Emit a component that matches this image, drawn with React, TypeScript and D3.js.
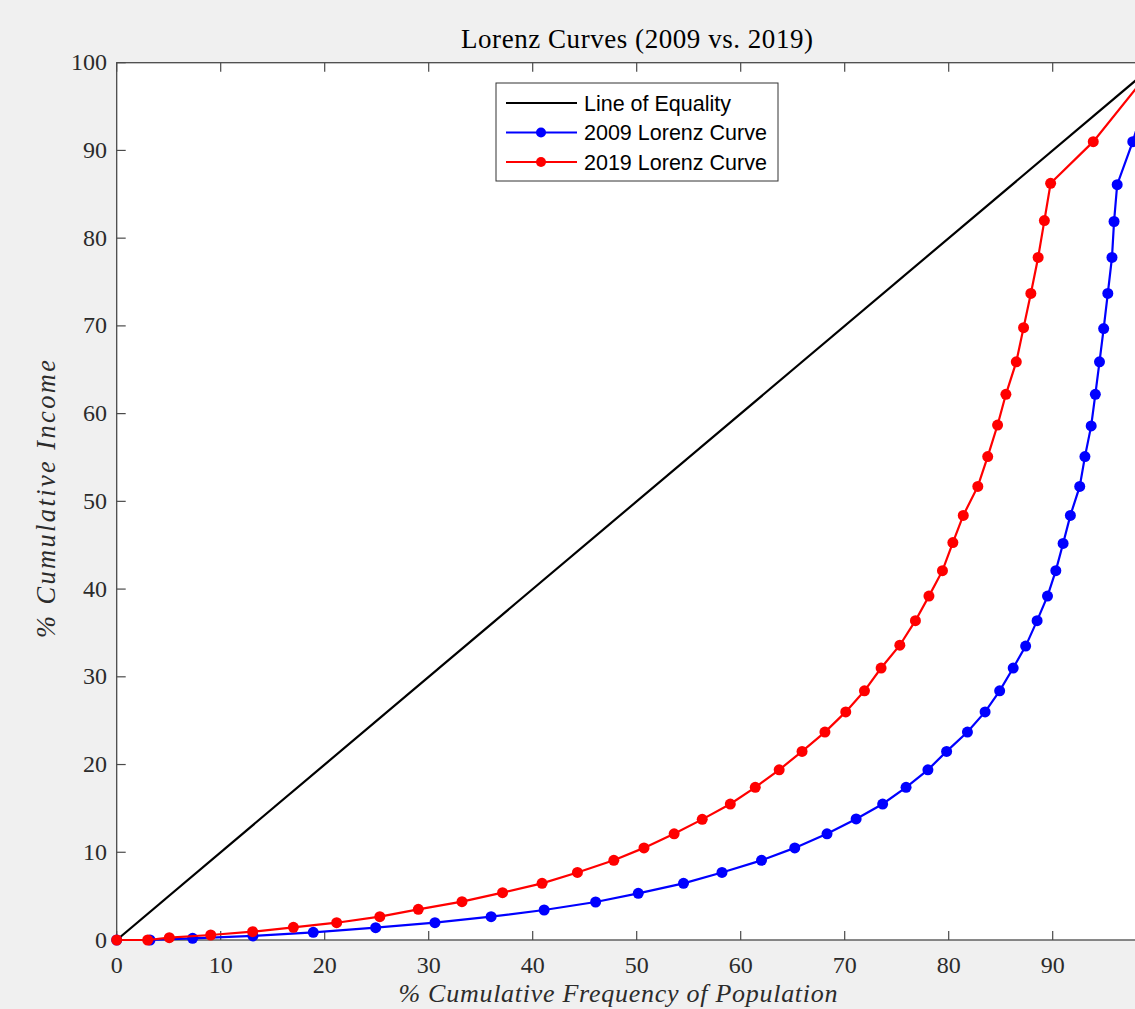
import React from "react";
import * as d3 from "d3";

// Cumulative % of population (x) and cumulative % of income (y)
const pop2009 = [0, 3.2, 7.3, 13.1, 18.9, 24.9, 30.6, 36.0, 41.1, 46.05, 50.15, 54.5, 58.2, 62.0, 65.2, 68.3, 71.1, 73.65, 75.9, 78.0, 79.8, 81.8, 83.5, 84.9, 86.2, 87.4, 88.5, 89.5, 90.3, 91.0, 91.7, 92.6, 93.1, 93.7, 94.1, 94.5, 94.9, 95.3, 95.7, 95.9, 96.2, 97.7, 100];
const inc2009 = [0, 0, 0.19, 0.46, 0.87, 1.4, 1.98, 2.66, 3.42, 4.33, 5.32, 6.46, 7.7, 9.08, 10.5, 12.1, 13.8, 15.5, 17.4, 19.4, 21.5, 23.7, 26.0, 28.4, 31.0, 33.5, 36.4, 39.2, 42.1, 45.2, 48.4, 51.7, 55.1, 58.6, 62.2, 65.9, 69.7, 73.7, 77.8, 81.9, 86.1, 91.0, 100];

const pop2019 = [0, 2.98, 5.06, 9.04, 13.07, 16.99, 21.15, 25.3, 29.0, 33.2, 37.1, 40.9, 44.3, 47.8, 50.7, 53.6, 56.3, 59.0, 61.4, 63.7, 65.9, 68.1, 70.1, 71.9, 73.5, 75.3, 76.8, 78.1, 79.4, 80.4, 81.4, 82.8, 83.75, 84.7, 85.5, 86.5, 87.2, 87.9, 88.6, 89.2, 89.8, 93.9, 100];
const inc2019 = [0, 0, 0.26, 0.57, 0.95, 1.44, 1.97, 2.66, 3.5, 4.37, 5.4, 6.46, 7.7, 9.08, 10.5, 12.1, 13.75, 15.5, 17.4, 19.4, 21.5, 23.7, 26.0, 28.4, 31.0, 33.6, 36.4, 39.2, 42.1, 45.3, 48.4, 51.7, 55.1, 58.7, 62.2, 65.9, 69.8, 73.7, 77.8, 82.0, 86.25, 91.0, 100];

const equalityX = [0, 100];
const equalityY = [0, 100];

const xTicks = [0, 10, 20, 30, 40, 50, 60, 70, 80, 90, 100];
// the "100" x-tick label lies beyond the cropped right edge in the reference
const xTickLabels = ["0", "10", "20", "30", "40", "50", "60", "70", "80", "90", ""];
const yTicks = [0, 10, 20, 30, 40, 50, 60, 70, 80, 90, 100];

const legendLabels = ["Line of Equality", "2009 Lorenz Curve", "2019 Lorenz Curve"];
const legendColors = ["#000000", "#0000ff", "#ff0000"];

const titleText = "Lorenz Curves (2009 vs. 2019)";
const xLabelText = "% Cumulative Frequency of Population";
const yLabelText = "% Cumulative Income";

export default function App() {
  const W = 1135;
  const H = 1009;
  const left = 116.7;
  const right = 1156.7;
  const top = 62.7;
  const bottom = 940;

  const x = d3.scaleLinear().domain([0, 100]).range([left, right]);
  const y = d3.scaleLinear().domain([0, 100]).range([bottom, top]);

  const line = d3
    .line<[number, number]>()
    .x((d) => x(d[0]))
    .y((d) => y(d[1]));

  const eq: [number, number][] = equalityX.map((v, i) => [v, equalityY[i]]);
  const s2009: [number, number][] = pop2009.map((v, i) => [v, inc2009[i]]);
  const s2019: [number, number][] = pop2019.map((v, i) => [v, inc2019[i]]);

  const axisColor = "#4a4a4a";
  const textColor = "#2b2b2b";
  const serif = "'Liberation Serif', 'Times New Roman', serif";
  const sans = "'Liberation Sans', Arial, Helvetica, sans-serif";
  const tickLen = 9;
  const mr = 5.5;

  const lg = { x0: 496, y0: 83, x1: 778, y1: 181 };
  const rowY = [103, 132.5, 162];

  return (
    <svg
      width={W}
      height={H}
      style={{ position: "absolute", left: 0, top: 0, display: "block" }}
      xmlns="http://www.w3.org/2000/svg"
    >
      <rect x={0} y={0} width={W} height={H} fill="#f0f0f0" />
      <rect x={left} y={top} width={right - left} height={bottom - top} fill="#ffffff" />

      {/* ticks */}
      {xTicks.map((t, i) => (
        <g key={"xt" + t}>
          <line x1={x(t)} x2={x(t)} y1={bottom} y2={bottom - tickLen} stroke={axisColor} strokeWidth={1.2} />
          <line x1={x(t)} x2={x(t)} y1={top} y2={top + tickLen} stroke={axisColor} strokeWidth={1.2} />
          {xTickLabels[i] !== "" && (
            <text x={x(t)} y={973} textAnchor="middle" fontFamily={serif} fontSize={24} fill={textColor}>
              {xTickLabels[i]}
            </text>
          )}
        </g>
      ))}
      {yTicks.map((t) => (
        <g key={"yt" + t}>
          <line x1={left} x2={left + tickLen} y1={y(t)} y2={y(t)} stroke={axisColor} strokeWidth={1.2} />
          <line x1={right} x2={right - tickLen} y1={y(t)} y2={y(t)} stroke={axisColor} strokeWidth={1.2} />
          <text x={107} y={y(t) + 7.5} textAnchor="end" fontFamily={serif} fontSize={24} fill={textColor}>
            {t}
          </text>
        </g>
      ))}

      {/* axes box */}
      <rect x={left} y={top} width={right - left} height={bottom - top} fill="none" stroke={axisColor} strokeWidth={1.3} />

      {/* series */}
      <path d={line(eq) || ""} fill="none" stroke="#000000" strokeWidth={2.2} />
      <path d={line(s2009) || ""} fill="none" stroke="#0000ff" strokeWidth={2.2} />
      {s2009.map((d, i) => (
        <circle key={"b" + i} cx={x(d[0])} cy={y(d[1])} r={mr} fill="#0000ff" />
      ))}
      <path d={line(s2019) || ""} fill="none" stroke="#ff0000" strokeWidth={2.2} />
      {s2019.map((d, i) => (
        <circle key={"r" + i} cx={x(d[0])} cy={y(d[1])} r={mr} fill="#ff0000" />
      ))}

      {/* legend */}
      <rect x={lg.x0} y={lg.y0} width={lg.x1 - lg.x0} height={lg.y1 - lg.y0} fill="#ffffff" stroke="#333333" strokeWidth={1} />
      {legendLabels.map((lab, i) => (
        <g key={"lg" + i}>
          <line x1={506} x2={577} y1={rowY[i]} y2={rowY[i]} stroke={legendColors[i]} strokeWidth={2.2} />
          {i > 0 && <circle cx={541} cy={rowY[i]} r={5} fill={legendColors[i]} />}
          <text x={584} y={rowY[i] + 7.5} fontFamily={sans} fontSize={21.5} fill="#000000">
            {lab}
          </text>
        </g>
      ))}

      {/* title & labels */}
      <text x={637} y={48} textAnchor="middle" fontFamily={serif} fontSize={27} fill="#000000" textLength={352} lengthAdjust="spacing">
        {titleText}
      </text>
      <text x={618} y={1002} textAnchor="middle" fontFamily={serif} fontStyle="italic" fontSize={26} fill={textColor} textLength={439} lengthAdjust="spacing">
        {xLabelText}
      </text>
      <text
        transform={`translate(55, 499) rotate(-90)`}
        textAnchor="middle"
        fontFamily={serif}
        fontStyle="italic"
        fontSize={26.4}
        fill={textColor}
        textLength={278}
        lengthAdjust="spacing"
      >
        {yLabelText}
      </text>
    </svg>
  );
}
